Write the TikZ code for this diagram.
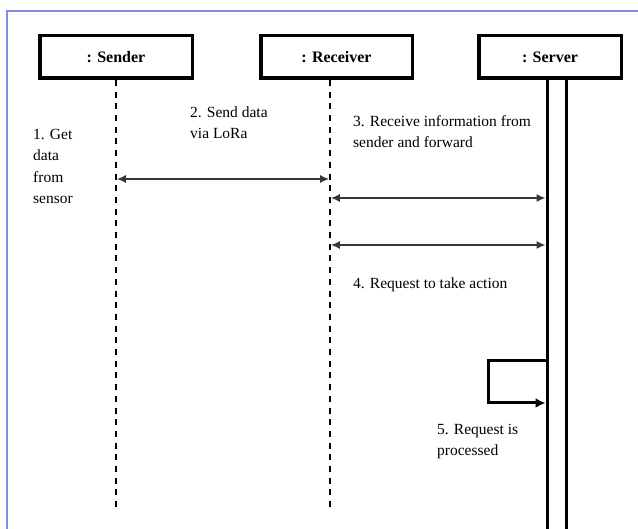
\documentclass[tikz,border=0pt]{standalone}
\usepackage{fontspec}
\setmainfont{Liberation Serif}
\usetikzlibrary{arrows.meta}
\definecolor{frameblue}{RGB}{130,140,225}
\definecolor{msggray}{RGB}{55,55,55}
\tikzset{
lifebox/.style={draw, line width=3.5pt, minimum height=42.5pt, inner sep=0pt,
  font=\fontsize{16}{19}\selectfont\bfseries},
lifeline/.style={line width=1.6pt, dash pattern=on 6pt off 5.7pt},
srvline/.style={line width=3pt},
msg/.style={msggray, line width=1.5pt, {Latex[length=9pt,width=8pt]}-{Latex[length=9pt,width=8pt]}},
selfmsg/.style={line width=3pt, -{Latex[length=10pt,width=10pt]}},
note/.style={align=left, inner sep=0pt, anchor=base west,
  font=\fontsize{15.5}{21.5}\selectfont}
}
\begin{document}
\begin{tikzpicture}[x=1pt,y=-1pt]
\useasboundingbox (0,0) rectangle (638,529);
\draw[frameblue, line width=2pt] (7,529) -- (7,11) -- (640,11);

% objects
\node[lifebox, minimum width=152.5pt] (sender) at (116,57) {: Sender};
\node[lifebox, minimum width=151.5pt] (receiver) at (336.5,57) {: Receiver};
\node[lifebox, minimum width=142.5pt] (server) at (550,57) {: Server};

% lifelines
\coordinate (sndtop) at (116,80);
\coordinate (sndbot) at (116,512);
\coordinate (rcvtop) at (330,80);
\coordinate (rcvbot) at (330,512);
\coordinate (srvatop) at (547,80);
\coordinate (srvabot) at (547,535);
\coordinate (srvbtop) at (566,80);
\coordinate (srvbbot) at (566,535);
\draw[lifeline] (sndtop) -- (sndbot);
\draw[lifeline] (rcvtop) -- (rcvbot);
\draw[srvline] (srvatop) -- (srvabot);
\draw[srvline] (srvbtop) -- (srvbbot);

% messages
\coordinate (m2a) at (116.8,179);
\coordinate (m2b) at (329.2,179);
\coordinate (m3a) at (330.8,198);
\coordinate (m3b) at (545.5,198);
\coordinate (m4a) at (330.8,245);
\coordinate (m4b) at (545.5,245);
\draw[msg] (m2a) -- (m2b);
\draw[msg] (m3a) -- (m3b);
\draw[msg] (m4a) -- (m4b);

% self call
\coordinate (s5a) at (545.5,361);
\coordinate (s5b) at (488,361);
\coordinate (s5c) at (488,403);
\coordinate (s5d) at (545.5,403);
\draw[selfmsg] (s5a) -- (s5b) -- (s5c) -- (s5d);

% labels (anchored at the last line)
\node[note] (t1) at (33,204) {1. Get\\data\\from\\sensor};
\node[note] (t2) at (190,139) {2. Send data\\via LoRa};
\node[note] (t3) at (353,148) {3. Receive information from\\sender and forward};
\node[note] (t4) at (353,288.5) {4. Request to take action};
\node[note] (t5) at (437,456) {5. Request is\\processed};
\end{tikzpicture}
\end{document}
